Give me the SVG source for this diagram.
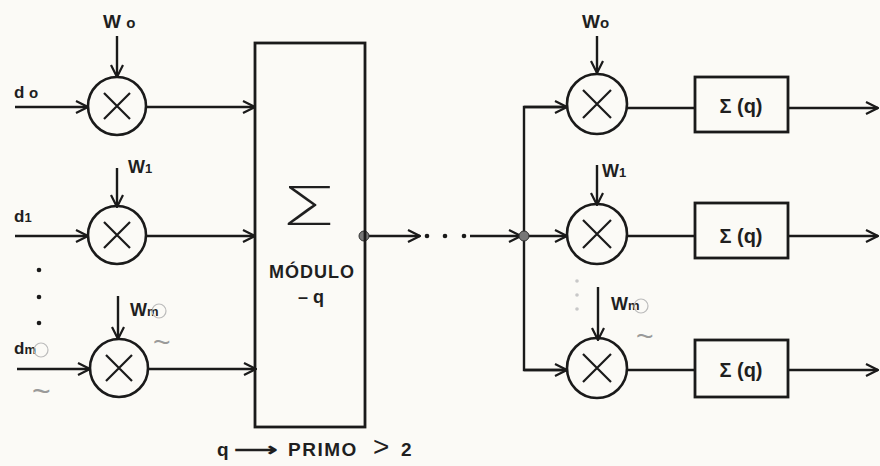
<svg xmlns="http://www.w3.org/2000/svg" width="880" height="466" viewBox="0 0 880 466">
<defs>
<marker id="arr" viewBox="0 0 14 14" refX="13" refY="7" markerWidth="14" markerHeight="14" markerUnits="userSpaceOnUse" orient="auto">
<path d="M1,1 L13,7 L1,13" fill="none" stroke="#1a1a1a" stroke-width="2.2"/>
</marker>
</defs>
<style>
.ln{fill:none;stroke:#1a1a1a;stroke-width:2.4}
.ar{fill:none;stroke:#1a1a1a;stroke-width:2.4;marker-end:url(#arr)}
.mul circle{fill:none;stroke:#1a1a1a;stroke-width:2.6}
.mul path{fill:none;stroke:#1a1a1a;stroke-width:2.2}
.box{fill:none;stroke:#1a1a1a;stroke-width:2.8}
.t{font-family:"Liberation Sans",Arial,sans-serif;font-weight:bold;fill:#1f1f1f}
.sig{font-family:Inter,"DejaVu Sans",sans-serif;font-weight:200;fill:#1f1f1f}
.g{font-family:"Liberation Sans",Arial,sans-serif;fill:#9a9a9a}
.dot{fill:#1a1a1a}
.jn{fill:#777;stroke:#333;stroke-width:1}
</style>
<rect width="880" height="466" fill="#fbfaf6"/>

<g id="connectors">
<line class="ar" x1="15" y1="107" x2="88" y2="107"/>
<line class="ar" x1="15" y1="236" x2="88" y2="236"/>
<line class="ar" x1="17" y1="369" x2="90" y2="369"/>
<line class="ar" x1="117" y1="36" x2="117" y2="77"/>
<line class="ar" x1="117" y1="168" x2="117" y2="207"/>
<line class="ar" x1="118" y1="296" x2="118" y2="339"/>
<line class="ar" x1="147" y1="107" x2="255" y2="107"/>
<line class="ar" x1="147" y1="236" x2="255" y2="236"/>
<line class="ar" x1="149" y1="369" x2="256" y2="369"/>
<line class="ar" x1="365" y1="236" x2="420" y2="236"/>
<line class="ar" x1="470" y1="236" x2="521" y2="236"/>
<polyline class="ln" points="567,107 524,107 524,370 567,370"/>
<line class="ar" x1="524" y1="107" x2="567" y2="107"/>
<line class="ar" x1="524" y1="236" x2="567" y2="236"/>
<line class="ar" x1="524" y1="370" x2="567" y2="370"/>
<line class="ar" x1="597" y1="36" x2="597" y2="73"/>
<line class="ar" x1="597" y1="165" x2="597" y2="205"/>
<line class="ar" x1="598" y1="287" x2="598" y2="340"/>
<line class="ln" x1="627" y1="108" x2="695" y2="108"/>
<line class="ln" x1="627" y1="236" x2="695" y2="236"/>
<line class="ln" x1="627" y1="370" x2="695" y2="370"/>
<line class="ar" x1="788" y1="108" x2="878" y2="108"/>
<line class="ar" x1="788" y1="236" x2="878" y2="236"/>
<line class="ar" x1="788" y1="370" x2="878" y2="370"/>
<circle class="jn" cx="364" cy="236" r="5"/>
<circle class="jn" cx="524" cy="236" r="5"/>
<circle class="dot" cx="427" cy="236" r="2.3"/>
<circle class="dot" cx="445" cy="236" r="2.3"/>
<circle class="dot" cx="464" cy="236" r="2.3"/>
<circle class="dot" cx="39" cy="270" r="2.3"/>
<circle class="dot" cx="39" cy="297" r="2.3"/>
<circle class="dot" cx="39" cy="323" r="2.3"/>
<circle cx="577" cy="281" r="1.8" fill="#c8c8c8"/>
<circle cx="577" cy="295" r="1.8" fill="#c8c8c8"/>
<circle cx="577" cy="309" r="1.8" fill="#c8c8c8"/>
</g>

<g id="mul-l0" class="mul"><circle cx="117" cy="106" r="29"/><path d="M104,93 L130,119 M130,93 L104,119"/></g>
<g id="mul-l1" class="mul"><circle cx="117" cy="235" r="29"/><path d="M104,222 L130,248 M130,222 L104,248"/></g>
<g id="mul-lm" class="mul"><circle cx="119" cy="368" r="29"/><path d="M106,355 L132,381 M132,355 L106,381"/></g>

<g id="mul-r0" class="mul"><circle cx="597" cy="104" r="30"/><path d="M583,90 L611,118 M611,90 L583,118"/></g>
<g id="mul-r1" class="mul"><circle cx="597" cy="234" r="30"/><path d="M583,220 L611,248 M611,220 L583,248"/></g>
<g id="mul-rm" class="mul"><circle cx="597" cy="368" r="30"/><path d="M583,354 L611,382 M611,354 L583,382"/></g>

<g id="sum-box">
<rect class="box" x="255" y="43" width="110" height="384"/>
<text class="sig" x="0" y="0" font-size="54" text-anchor="middle" transform="translate(309,225) scale(1.45,1)">Σ</text>
<text class="t" x="312" y="278" font-size="18" letter-spacing="1" text-anchor="middle">MÓDULO</text>
<text class="t" x="311" y="303" font-size="18" text-anchor="middle">– q</text>
</g>

<g id="mq-0"><rect class="box" x="695" y="77" width="93" height="55"/><text class="t" x="741" y="113" font-size="20" text-anchor="middle">Σ (q)</text></g>
<g id="mq-1"><rect class="box" x="695" y="203" width="93" height="55"/><text class="t" x="741" y="243" font-size="20" text-anchor="middle">Σ (q)</text></g>
<g id="mq-m"><rect class="box" x="695" y="340" width="93" height="57"/><text class="t" x="741" y="377" font-size="20" text-anchor="middle">Σ (q)</text></g>

<g id="labels">
<text class="t" x="14" y="98" font-size="17">d <tspan font-size="15">o</tspan></text>
<text class="t" x="103" y="28" font-size="19">W <tspan font-size="15">o</tspan></text>
<text class="t" x="128" y="173" font-size="18">W<tspan font-size="13">1</tspan></text>
<text class="t" x="14" y="222" font-size="17">d<tspan font-size="13">1</tspan></text>
<text class="t" x="130" y="316" font-size="18">W<tspan font-size="13">m</tspan></text>
<circle cx="159" cy="311" r="7" fill="none" stroke="#bbb" stroke-width="1.2"/>
<text class="g" x="153" y="352" font-size="30">~</text>
<text class="t" x="14" y="354" font-size="17">d<tspan font-size="13">m</tspan></text>
<circle cx="41" cy="350" r="7" fill="none" stroke="#bbb" stroke-width="1.2"/>
<text class="g" x="32" y="402" font-size="32">~</text>
<text class="t" x="582" y="28" font-size="19">W<tspan font-size="15">o</tspan></text>
<text class="t" x="602" y="177" font-size="18">W<tspan font-size="13">1</tspan></text>
<text class="t" x="611" y="310" font-size="18">W<tspan font-size="13">m</tspan></text>
<circle cx="641" cy="306" r="7" fill="none" stroke="#bbb" stroke-width="1.2"/>
<text class="g" x="636" y="346" font-size="30">~</text>
<text class="t" font-size="19" x="217" y="456">q</text>
<text class="t" font-size="19" x="0" y="0" transform="translate(234,456) scale(1.6,1)">⟶</text>
<text class="t" font-size="19" y="456"><tspan x="288" letter-spacing="1.5">PRIMO</tspan><tspan x="373" font-size="28" font-weight="normal">&gt;</tspan><tspan x="401">2</tspan></text>
</g>
</svg>
